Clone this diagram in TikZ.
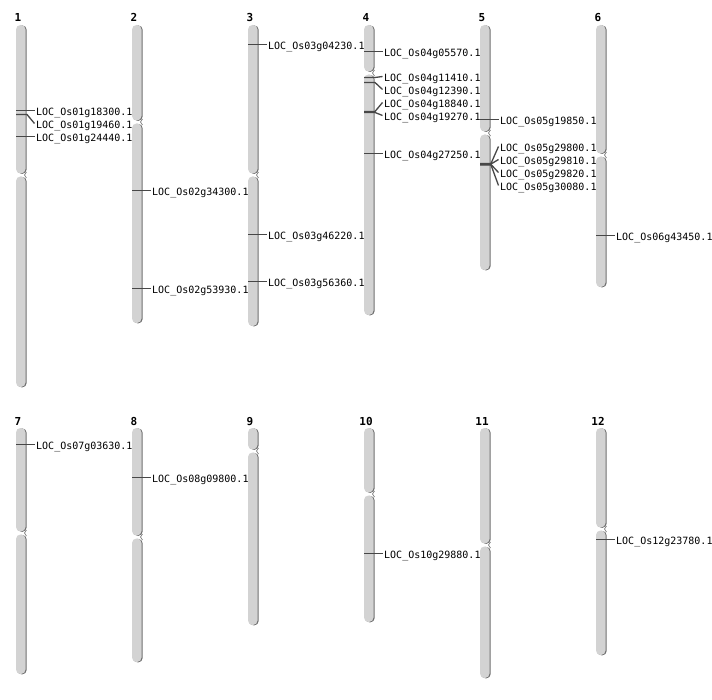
\documentclass[tikz,border=0pt]{standalone}
\usepackage{fontspec}
\setmonofont{DejaVu Sans Mono}
\definecolor{chromfill}{RGB}{211,211,211}
\definecolor{chromedge}{RGB}{110,110,110}
\begin{document}
\begin{tikzpicture}[x=1pt,y=-1pt,
  arm/.style={fill=chromfill,rounded corners=4.5pt,preaction={fill=chromedge,transform canvas={xshift=1.2pt,yshift=-0.4pt}}},
  notch/.style={draw=chromedge,line width=0.6pt},
  chrnum/.style={font=\ttfamily\bfseries\fontsize{11}{13}\selectfont,anchor=base,inner sep=0pt},
  gene/.style={font=\ttfamily\fontsize{10}{12}\selectfont,anchor=west,inner xsep=1.5pt,inner ysep=0pt,text height=9.3pt,text depth=0pt},
  tick/.style={draw=black!72,line width=1.3pt}]
\useasboundingbox (0,0) rectangle (712,700);
\fill[arm] (16,25) rectangle (25.5,173.5);
\fill[arm] (16,176.5) rectangle (25.5,387);
\draw[notch] (26.5,172) -- (24.5,175) -- (26.5,178);
\fill[arm] (132,25) rectangle (141.5,120.5);
\fill[arm] (132,123.5) rectangle (141.5,323);
\draw[notch] (142.5,119) -- (140.5,122) -- (142.5,125);
\fill[arm] (248,25) rectangle (257.5,173.5);
\fill[arm] (248,176.5) rectangle (257.5,326);
\draw[notch] (258.5,172) -- (256.5,175) -- (258.5,178);
\fill[arm] (364,25) rectangle (373.5,71.5);
\fill[arm] (364,74.5) rectangle (373.5,315);
\draw[notch] (374.5,70) -- (372.5,73) -- (374.5,76);
\fill[arm] (480,25) rectangle (489.5,131.5);
\fill[arm] (480,134.5) rectangle (489.5,270);
\draw[notch] (490.5,130) -- (488.5,133) -- (490.5,136);
\fill[arm] (596,25) rectangle (605.5,153.5);
\fill[arm] (596,156.5) rectangle (605.5,287);
\draw[notch] (606.5,152) -- (604.5,155) -- (606.5,158);
\fill[arm] (16,428) rectangle (25.5,531.5);
\fill[arm] (16,534.5) rectangle (25.5,674);
\draw[notch] (26.5,530) -- (24.5,533) -- (26.5,536);
\fill[arm] (132,428) rectangle (141.5,535.5);
\fill[arm] (132,538.5) rectangle (141.5,662);
\draw[notch] (142.5,534) -- (140.5,537) -- (142.5,540);
\fill[arm] (248,428) rectangle (257.5,449.5);
\fill[arm] (248,452.5) rectangle (257.5,625);
\draw[notch] (258.5,448) -- (256.5,451) -- (258.5,454);
\fill[arm] (364,428) rectangle (373.5,492.5);
\fill[arm] (364,495.5) rectangle (373.5,622);
\draw[notch] (374.5,491) -- (372.5,494) -- (374.5,497);
\fill[arm] (480,428) rectangle (489.5,543.5);
\fill[arm] (480,546.5) rectangle (489.5,678);
\draw[notch] (490.5,542) -- (488.5,545) -- (490.5,548);
\fill[arm] (596,428) rectangle (605.5,527.5);
\fill[arm] (596,530.5) rectangle (605.5,655);
\draw[notch] (606.5,526) -- (604.5,529) -- (606.5,532);
\node[chrnum] (n1) at (18,22) {1};
\node[chrnum] (n2) at (134,22) {2};
\node[chrnum] (n3) at (250,22) {3};
\node[chrnum] (n4) at (366,22) {4};
\node[chrnum] (n5) at (482,22) {5};
\node[chrnum] (n6) at (598,22) {6};
\node[chrnum] (n7) at (18,425) {7};
\node[chrnum] (n8) at (134,425) {8};
\node[chrnum] (n9) at (250,425) {9};
\node[chrnum] (n10) at (366,425) {10};
\node[chrnum] (n11) at (482,425) {11};
\node[chrnum] (n12) at (598,425) {12};
\node[gene] (g1a) at (34.5,110.5) {LOC\_Os01g18300.1};
\draw[tick] (16,110.5) coordinate (m1a) -- ++(11,0) -- (g1a.west);
\node[gene] (g1b) at (34.5,123.5) {LOC\_Os01g19460.1};
\draw[tick] (16,114.5) coordinate (m1b) -- ++(11,0) -- (g1b.west);
\node[gene] (g1c) at (34.5,136.5) {LOC\_Os01g24440.1};
\draw[tick] (16,136.5) coordinate (m1c) -- ++(11,0) -- (g1c.west);
\node[gene] (g2a) at (150.5,190.5) {LOC\_Os02g34300.1};
\draw[tick] (132,190.5) coordinate (m2a) -- ++(11,0) -- (g2a.west);
\node[gene] (g2b) at (150.5,288.5) {LOC\_Os02g53930.1};
\draw[tick] (132,288.5) coordinate (m2b) -- ++(11,0) -- (g2b.west);
\node[gene] (g3a) at (266.5,44.5) {LOC\_Os03g04230.1};
\draw[tick] (248,44.5) coordinate (m3a) -- ++(11,0) -- (g3a.west);
\node[gene] (g3b) at (266.5,234.5) {LOC\_Os03g46220.1};
\draw[tick] (248,234.5) coordinate (m3b) -- ++(11,0) -- (g3b.west);
\node[gene] (g3c) at (266.5,281.5) {LOC\_Os03g56360.1};
\draw[tick] (248,281.5) coordinate (m3c) -- ++(11,0) -- (g3c.west);
\node[gene] (g4a) at (382.5,51.5) {LOC\_Os04g05570.1};
\draw[tick] (364,51.5) coordinate (m4a) -- ++(11,0) -- (g4a.west);
\node[gene] (g4b) at (382.5,76.5) {LOC\_Os04g11410.1};
\draw[tick] (364,77.5) coordinate (m4b) -- ++(11,0) -- (g4b.west);
\node[gene] (g4c) at (382.5,89.5) {LOC\_Os04g12390.1};
\draw[tick] (364,82.5) coordinate (m4c) -- ++(11,0) -- (g4c.west);
\node[gene] (g4d) at (382.5,102.5) {LOC\_Os04g18840.1};
\draw[tick] (364,111.5) coordinate (m4d) -- ++(11,0) -- (g4d.west);
\node[gene] (g4e) at (382.5,115.5) {LOC\_Os04g19270.1};
\draw[tick] (364,112.5) coordinate (m4e) -- ++(11,0) -- (g4e.west);
\node[gene] (g4f) at (382.5,153.5) {LOC\_Os04g27250.1};
\draw[tick] (364,153.5) coordinate (m4f) -- ++(11,0) -- (g4f.west);
\node[gene] (g5a) at (498.5,119.5) {LOC\_Os05g19850.1};
\draw[tick] (480,119.5) coordinate (m5a) -- ++(11,0) -- (g5a.west);
\node[gene] (g5b) at (498.5,146.5) {LOC\_Os05g29800.1};
\draw[tick] (480,163.5) coordinate (m5b) -- ++(11,0) -- (g5b.west);
\node[gene] (g5c) at (498.5,159.5) {LOC\_Os05g29810.1};
\draw[tick] (480,164) coordinate (m5c) -- ++(11,0) -- (g5c.west);
\node[gene] (g5d) at (498.5,172.5) {LOC\_Os05g29820.1};
\draw[tick] (480,164.5) coordinate (m5d) -- ++(11,0) -- (g5d.west);
\node[gene] (g5e) at (498.5,185.5) {LOC\_Os05g30080.1};
\draw[tick] (480,165) coordinate (m5e) -- ++(11,0) -- (g5e.west);
\node[gene] (g6a) at (614.5,235.5) {LOC\_Os06g43450.1};
\draw[tick] (596,235.5) coordinate (m6a) -- ++(11,0) -- (g6a.west);
\node[gene] (g7a) at (34.5,444.5) {LOC\_Os07g03630.1};
\draw[tick] (16,444.5) coordinate (m7a) -- ++(11,0) -- (g7a.west);
\node[gene] (g8a) at (150.5,477.5) {LOC\_Os08g09800.1};
\draw[tick] (132,477.5) coordinate (m8a) -- ++(11,0) -- (g8a.west);
\node[gene] (g10a) at (382.5,553.5) {LOC\_Os10g29880.1};
\draw[tick] (364,553.5) coordinate (m10a) -- ++(11,0) -- (g10a.west);
\node[gene] (g12a) at (614.5,539.5) {LOC\_Os12g23780.1};
\draw[tick] (596,539.5) coordinate (m12a) -- ++(11,0) -- (g12a.west);
\end{tikzpicture}
\end{document}
